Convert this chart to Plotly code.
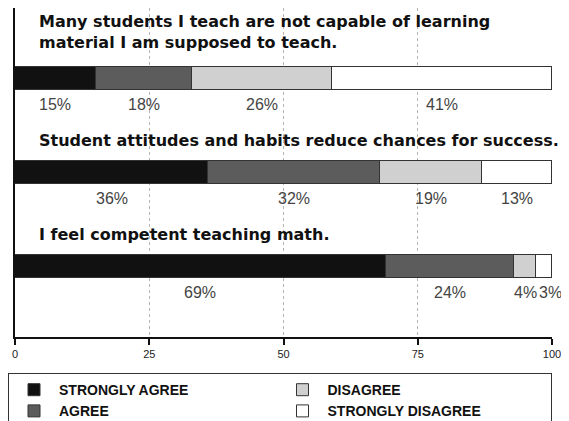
import plotly.graph_objects as go

# survey items (top to bottom)
questions = [
    "Many students I teach are not capable of learning<br>material I am supposed to teach.",
    "Student attitudes and habits reduce chances for success.",
    "I feel competent teaching math.",
]
levels = ["STRONGLY AGREE", "AGREE", "DISAGREE", "STRONGLY DISAGREE"]
strongly_agree = [15, 36, 69]
agree = [18, 32, 24]
disagree = [26, 19, 4]
strongly_disagree = [41, 13, 3]
x_ticks = [0, 25, 50, 75, 100]

series = [strongly_agree, agree, disagree, strongly_disagree]
colors = ["#111111", "#5c5c5c", "#d0d0d0", "#ffffff"]
legend_rank = [1, 3, 2, 4]  # two columns: agree side left, disagree side right

FONT = "Liberation Sans"

fig = go.Figure()
for name, vals, col, rank in zip(levels, series, colors, legend_rank):
    fig.add_trace(go.Bar(
        y=questions, x=vals, name=name, orientation="h",
        width=0.245,
        marker=dict(color=col, line=dict(color="#333333", width=1)),
        legendrank=rank,
        hoverinfo="x+name",
    ))

annotations = []
# question titles above bars
for q in questions:
    n_lines = q.count("<br>") + 1
    annotations.append(dict(
        x=0.041, xref="paper", xanchor="left",
        y=q, yref="y", yanchor="bottom", yshift=20 + 4 * (n_lines - 1),
        text=q, showarrow=False, align="left",
        font=dict(family="DejaVu Sans", size=16, color="#111111", weight="bold"),
    ))

# percent labels under each segment
for i, q in enumerate(questions):
    start = 0
    for k, vals in enumerate(series):
        v = vals[i]
        lab = dict(
            x=start + v / 2, xref="x", y=q, yref="y", yshift=-26,
            text=f"{v}%", showarrow=False,
            font=dict(family=FONT, size=16, color="#444444"),
        )
        # a thin last slice gets its label starting at the slice edge
        if k == len(series) - 1 and v < 5:
            lab.update(x=start, xanchor="left", xshift=1)
        annotations.append(lab)
        start += v

# page body adds an 8px margin, so the figure is sized to fit the window
fig.update_layout(
    width=561, height=413,
    margin=dict(l=7, r=17, t=0, b=84),
    paper_bgcolor="white", plot_bgcolor="white",
    barmode="stack",
    bargap=0,
    font=dict(family=FONT, color="#222222"),
    annotations=annotations,
    xaxis=dict(
        range=[0, 100], tickvals=x_ticks,
        showgrid=True, gridcolor="#b5b5b5", griddash="dot", gridwidth=1,
        showline=True, linecolor="#111111", linewidth=2,
        ticks="outside", ticklen=6, tickwidth=2, tickcolor="#111111",
        tickfont=dict(size=11, color="#222222"),
        zeroline=False, fixedrange=True,
    ),
    yaxis=dict(
        range=[2.75, -0.745], autorange=False,
        showticklabels=False, ticks="",
        showline=True, linecolor="#111111", linewidth=2,
        showgrid=False, zeroline=False, fixedrange=True,
    ),
    legend=dict(
        orientation="h", traceorder="normal",
        xref="container", yref="container",
        x=0, xanchor="left", y=0.116, yanchor="top",
        entrywidth=0.5, entrywidthmode="fraction",
        itemwidth=40,
        bordercolor="#333333", borderwidth=1,
        font=dict(family=FONT, size=14, color="#111111", weight="bold"),
        tracegroupgap=0, itemclick=False,
    ),
)

fig.write_html("out.html")
